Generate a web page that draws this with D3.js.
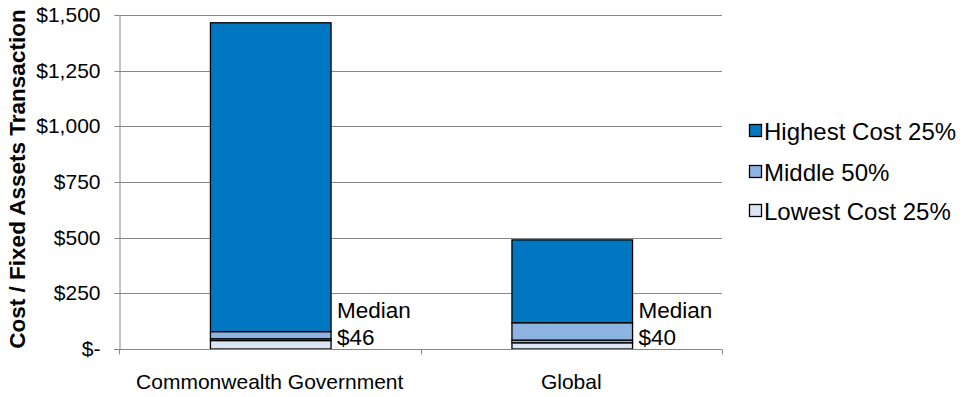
<!DOCTYPE html>
<html>
<head>
<meta charset="utf-8">
<script src="https://cdn.jsdelivr.net/npm/d3@7"></script>
<style>
  html, body { margin: 0; padding: 0; background: #fff; }
  svg text { font-family: "Liberation Sans", Arial, sans-serif; fill: #000; }
</style>
</head>
<body>
<svg id="chart" width="963" height="397"></svg>
<script>
// Cost per fixed-assets transaction, quartile breakdown
const categories = ["Commonwealth Government", "Global"];
const q1Values = [38, 28];        // top of lowest-cost quartile
const medianValues = [46, 40];    // median
const q3Values = [78, 118];       // top of middle 50%
const maxValues = [1465, 490];    // top of highest-cost quartile
const yTicks = [0, 250, 500, 750, 1000, 1250, 1500];
const legendLabels = ["Highest Cost 25%", "Middle 50%", "Lowest Cost 25%"];
const yTitle = "Cost / Fixed Assets Transaction";

const colors = {
  high: "#0077C0",
  mid: "#8DB3E1",
  low: "#DCE6F2"
};

const svg = d3.select("#chart");
const margin = { left: 119, right: 241, top: 15, bottom: 48 };
const W = 963, H = 397;
const plotW = W - margin.left - margin.right;
const plotH = H - margin.top - margin.bottom;

const g = svg.append("g").attr("transform", `translate(${margin.left},${margin.top})`);

const x = d3.scaleBand().domain(categories).range([0, plotW]).paddingInner(0).paddingOuter(0);
const y = d3.scaleLinear().domain([0, 1500]).range([plotH, 0]);

// gridlines
g.selectAll("line.grid").data(yTicks).join("line")
  .attr("class", "grid")
  .attr("x1", 0).attr("x2", plotW)
  .attr("y1", d => Math.round(y(d)) + 0.5).attr("y2", d => Math.round(y(d)) + 0.5)
  .attr("stroke", "#878787").attr("stroke-width", 1);

// y axis
const fmt = d => d === 0 ? "$-" : "$" + d3.format(",")(d);
const yAxis = g.append("g")
  .attr("transform", "translate(0.5,0)")
  .call(d3.axisLeft(y).tickValues(yTicks).tickFormat(fmt).tickSize(5).tickPadding(14));
yAxis.selectAll("path.domain").attr("stroke", "#878787");
yAxis.selectAll(".tick line").attr("stroke", "#878787");
yAxis.selectAll(".tick text").attr("font-size", 21).attr("font-family", "Liberation Sans, Arial, sans-serif").attr("fill", "#000");
yAxis.selectAll(".tick").attr("transform", d => `translate(0,${Math.round(y(d)) + 0.5})`);

// bar segments: lowest, lower middle, upper middle, highest
const rows = categories.map((c, i) => ({
  cat: c,
  low: q1Values[i],
  midLow: medianValues[i] - q1Values[i],
  midHigh: q3Values[i] - medianValues[i],
  high: maxValues[i] - q3Values[i]
}));
const keys = ["low", "midLow", "midHigh", "high"];
const keyColor = { low: colors.low, midLow: colors.mid, midHigh: colors.mid, high: colors.high };
const stacked = d3.stack().keys(keys)(rows);

const barW = x.bandwidth() / 2.5;
const barX = d => x(d.data.cat) + (x.bandwidth() - barW) / 2 + 1;

g.selectAll("g.series").data(stacked).join("g")
  .attr("class", "series")
  .attr("fill", d => keyColor[d.key])
  .selectAll("rect").data(d => d).join("rect")
  .attr("x", barX)
  .attr("width", barW)
  .attr("y", d => y(d[1]))
  .attr("height", d => y(d[0]) - y(d[1]))
  .attr("stroke", "#000").attr("stroke-width", 1.3);

// x axis
const xAxisG = g.append("g").attr("transform", `translate(0,${plotH + 0.5})`);
xAxisG.append("line")
  .attr("x1", -5).attr("x2", plotW)
  .attr("stroke", "#878787");
const boundaries = [0, x.bandwidth(), plotW];
xAxisG.selectAll("line.xt").data(boundaries).join("line")
  .attr("class", "xt")
  .attr("x1", d => Math.round(d) + 0.5).attr("x2", d => Math.round(d) + 0.5)
  .attr("y1", 0).attr("y2", 5)
  .attr("stroke", "#878787");
xAxisG.selectAll("text.cat").data(categories).join("text")
  .attr("class", "cat")
  .attr("x", d => x(d) + x.bandwidth() / 2)
  .attr("y", 39)
  .attr("text-anchor", "middle")
  .attr("font-size", 21)
  .text(d => d);

// median annotations
rows.forEach((r, i) => {
  const bx = x(r.cat) + (x.bandwidth() + barW) / 2 + 7;
  g.append("text").attr("x", bx).attr("y", 303).attr("font-size", 22.5).text("Median");
  g.append("text").attr("x", bx).attr("y", 329.5).attr("font-size", 22.5).text("$" + medianValues[i]);
});

// y axis title
svg.append("text")
  .attr("transform", `translate(25,${margin.top + plotH / 2 - 3}) rotate(-90)`)
  .attr("text-anchor", "middle")
  .attr("font-size", 22.5)
  .attr("font-weight", "bold")
  .text(yTitle);

// legend
const legendColors = [colors.high, colors.mid, colors.low];
const lg = svg.append("g").attr("transform", "translate(749,0)");
const legendY = [131, 172, 211];
legendLabels.forEach((lab, i) => {
  lg.append("rect")
    .attr("x", 0.5).attr("y", legendY[i] - 6.5)
    .attr("width", 12).attr("height", 12)
    .attr("fill", legendColors[i]).attr("stroke", "#000").attr("stroke-width", 1.3);
  lg.append("text")
    .attr("x", 15).attr("y", legendY[i] + 8.5)
    .attr("font-size", 24)
    .text(lab);
});
</script>
</body>
</html>
